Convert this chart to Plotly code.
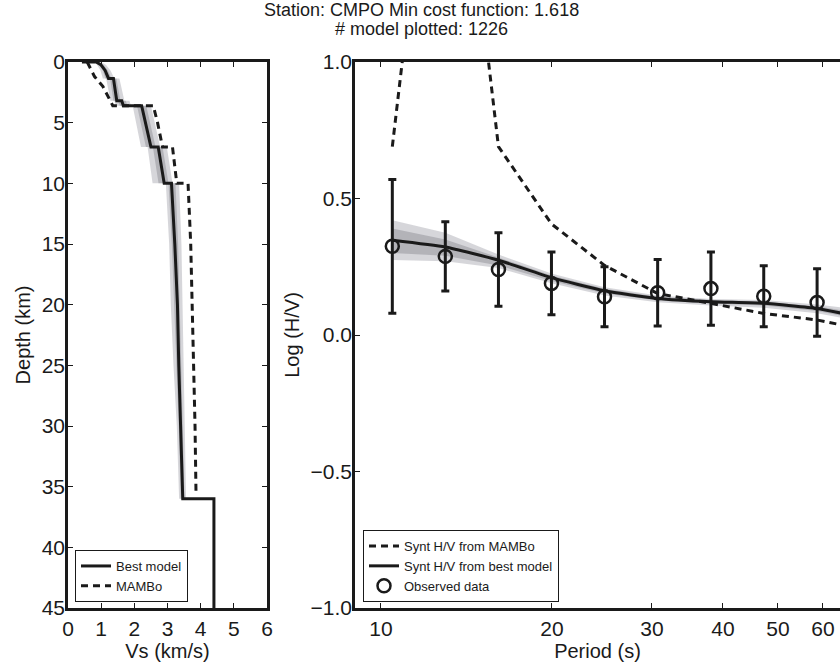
import numpy as np
import plotly.graph_objects as go

# ---------------- Left panel: Vs profiles ----------------
best_depth = [0, 0, 0.25, 0.7, 1.35, 1.35, 3.2, 3.2, 3.6, 3.6, 7.0, 7.0, 10.0, 10.0, 15, 20, 25, 30, 36.0, 36.0, 45]
best_vs = [0.42, 0.85, 1.00, 1.12, 1.22, 1.37, 1.47, 1.62, 1.67, 2.22, 2.50, 2.72, 2.90, 3.12, 3.22, 3.30, 3.34, 3.40, 3.46, 4.40, 4.40]

band_depth = [0, 0, 0.25, 0.7, 1.35, 1.35, 3.2, 3.2, 3.6, 3.6, 7.0, 7.0, 10.0, 10.0, 15, 20, 25, 30, 36.0]
band_outer_lo = [0.35, 0.80, 0.88, 0.98, 1.05, 1.15, 1.28, 1.40, 1.45, 1.95, 2.20, 2.40, 2.55, 2.95, 3.05, 3.10, 3.18, 3.28, 3.35]
band_outer_hi = [0.55, 1.00, 1.15, 1.28, 1.40, 1.55, 1.70, 1.85, 1.90, 2.50, 2.78, 2.98, 3.15, 3.35, 3.42, 3.45, 3.48, 3.52, 3.56]
band_inner_lo = [0.38, 0.82, 0.94, 1.05, 1.13, 1.27, 1.37, 1.51, 1.56, 2.08, 2.35, 2.56, 2.73, 3.03, 3.13, 3.20, 3.26, 3.34, 3.40]
band_inner_hi = [0.48, 0.92, 1.07, 1.20, 1.31, 1.46, 1.58, 1.74, 1.79, 2.36, 2.64, 2.85, 3.03, 3.24, 3.32, 3.38, 3.41, 3.46, 3.51]

mambo_depth = [0.0, 1.2, 2.0, 3.0, 3.6, 3.6, 5.0, 7.0, 7.0, 10.0, 10.0, 15, 20, 25, 30, 35.6]
mambo_vs = [0.58, 0.80, 1.05, 1.25, 1.35, 2.57, 2.70, 2.85, 3.15, 3.28, 3.62, 3.70, 3.75, 3.80, 3.83, 3.86]

# ---------------- Right panel: H/V curves ----------------
obs_period = [10.47, 12.98, 16.10, 19.96, 24.75, 30.7, 38.1, 47.2, 58.6]
obs_val = [0.325, 0.288, 0.240, 0.189, 0.140, 0.155, 0.170, 0.142, 0.119]
obs_err = [0.245, 0.127, 0.135, 0.115, 0.110, 0.122, 0.134, 0.112, 0.124]

syn_period = [10.47, 12.98, 16.10, 19.96, 24.75, 30.7, 38.1, 47.2, 58.6, 65.0]
syn_best = [0.347, 0.322, 0.274, 0.210, 0.162, 0.134, 0.122, 0.116, 0.097, 0.079]
syn_mambo = [0.69, 2.35, 0.69, 0.407, 0.255, 0.152, 0.116, 0.079, 0.055, 0.036]
syn_outer_hi = [0.42, 0.375, 0.295, 0.225, 0.175, 0.145, 0.132, 0.128, 0.112, 0.100]
syn_outer_lo = [0.275, 0.27, 0.245, 0.19, 0.145, 0.12, 0.108, 0.10, 0.080, 0.062]
syn_inner_hi = [0.39, 0.35, 0.285, 0.218, 0.169, 0.140, 0.128, 0.122, 0.105, 0.090]
syn_inner_lo = [0.30, 0.29, 0.255, 0.198, 0.152, 0.126, 0.115, 0.108, 0.088, 0.070]

x_ticks_vs = [0, 1, 2, 3, 4, 5, 6]
y_ticks_depth = [0, 5, 10, 15, 20, 25, 30, 35, 40, 45]
x_ticks_period = [10, 20, 30, 40, 50, 60]
y_ticks_hv = [-1.0, -0.5, 0.0, 0.5, 1.0]

INK = "#1a1a1a"
FONT = "Liberation Sans, Arial, sans-serif"

W, H = 840, 663
PLOT_TOP, PLOT_BOT = 62, 608


def px_x(x):
    return x / W


def py(y):
    return (PLOT_BOT - y) / (PLOT_BOT - PLOT_TOP)


fig = go.Figure()


def band_h(lo, hi, depth, color):
    return go.Scatter(x=list(lo) + list(hi)[::-1], y=list(depth) + list(depth)[::-1],
                      fill="toself", fillcolor=color, line=dict(width=0),
                      mode="lines", hoverinfo="skip", showlegend=False,
                      xaxis="x", yaxis="y")


fig.add_trace(band_h(band_outer_lo, band_outer_hi, band_depth, "rgba(200,200,206,0.75)"))
fig.add_trace(band_h(band_inner_lo, band_inner_hi, band_depth, "rgba(155,155,162,0.6)"))
fig.add_trace(go.Scatter(x=best_vs, y=best_depth, mode="lines", name="Best model",
                         line=dict(color=INK, width=3), xaxis="x", yaxis="y", legend="legend"))
fig.add_trace(go.Scatter(x=mambo_vs, y=mambo_depth, mode="lines", name="MAMBo",
                         line=dict(color=INK, width=3, dash="7px,5px"), xaxis="x", yaxis="y",
                         legend="legend"))


def band_v(lo, hi, per, color):
    return go.Scatter(x=list(per) + list(per)[::-1], y=list(lo) + list(hi)[::-1],
                      fill="toself", fillcolor=color, line=dict(width=0),
                      mode="lines", hoverinfo="skip", showlegend=False,
                      xaxis="x2", yaxis="y2")


fig.add_trace(band_v(syn_outer_lo, syn_outer_hi, syn_period, "rgba(200,200,206,0.75)"))
fig.add_trace(band_v(syn_inner_lo, syn_inner_hi, syn_period, "rgba(155,155,162,0.6)"))
fig.add_trace(go.Scatter(x=syn_period, y=syn_mambo, mode="lines", name="Synt H/V from MAMBo",
                         line=dict(color=INK, width=3, dash="7px,5px"), xaxis="x2", yaxis="y2",
                         legend="legend2"))
fig.add_trace(go.Scatter(x=syn_period, y=syn_best, mode="lines", name="Synt H/V from best model",
                         line=dict(color=INK, width=3, shape="spline", smoothing=0.5),
                         xaxis="x2", yaxis="y2", legend="legend2"))
fig.add_trace(go.Scatter(x=obs_period, y=obs_val, mode="markers", name="Observed data",
                         marker=dict(symbol="circle-open", size=13, color=INK, line=dict(width=2.5, color=INK)),
                         error_y=dict(type="data", array=obs_err, visible=True, thickness=3, width=4, color=INK),
                         xaxis="x2", yaxis="y2", legend="legend2"))

axis_common = dict(showline=True, linewidth=2.5, linecolor=INK, ticks="inside", ticklen=5,
                   tickwidth=1, tickcolor=INK, showgrid=False, zeroline=False,
                   tickfont=dict(size=21, color=INK, family=FONT))

fig.update_layout(
    width=W, height=H,
    margin=dict(l=0, r=0, t=PLOT_TOP, b=H - PLOT_BOT, autoexpand=False),
    paper_bgcolor="white", plot_bgcolor="white",
    font=dict(family=FONT, color=INK),
    xaxis=dict(domain=[px_x(68), px_x(267)], range=[0, 6], tickvals=x_ticks_vs, mirror="ticks",
               anchor="y", title=dict(text="Vs (km/s)", font=dict(size=20), standoff=2), **axis_common),
    yaxis=dict(domain=[0, 1], range=[45, 0], tickvals=y_ticks_depth, mirror="ticks", anchor="x",
               ticklabelstandoff=-4,
               title=dict(text="Depth (km)", font=dict(size=20), standoff=6), **axis_common),
    xaxis2=dict(domain=[px_x(355), 1.0], type="log", range=[np.log10(9.0), np.log10(64.3)],
                tickvals=x_ticks_period, ticktext=[str(v) for v in x_ticks_period], mirror="ticks",
                anchor="y2", title=dict(text="Period (s)", font=dict(size=20), standoff=2), **axis_common),
    yaxis2=dict(domain=[0, 1], range=[-1, 1], tickvals=y_ticks_hv, tickformat=".1f", mirror=False,
                anchor="x2", ticklabelstandoff=-4,
                title=dict(text="Log (H/V)", font=dict(size=20), standoff=6), **axis_common),
    legend=dict(x=px_x(75), y=py(602), xanchor="left", yanchor="bottom", bgcolor="white",
                bordercolor=INK, borderwidth=1, font=dict(size=13, family=FONT, color=INK),
                tracegroupgap=0),
    legend2=dict(x=px_x(363), y=py(602), xanchor="left", yanchor="bottom", bgcolor="white",
                 bordercolor=INK, borderwidth=1, font=dict(size=13, family=FONT, color=INK),
                 tracegroupgap=0),
    annotations=[
        dict(text="Station: CMPO Min cost function: 1.618", x=px_x(421), y=py(10),
             xref="paper", yref="paper", xanchor="center", yanchor="middle", showarrow=False,
             font=dict(size=18, family=FONT, color=INK)),
        dict(text="# model plotted: 1226", x=px_x(421), y=py(29),
             xref="paper", yref="paper", xanchor="center", yanchor="middle", showarrow=False,
             font=dict(size=18, family=FONT, color=INK)),
    ],
)

# Remove the browser's default 8px body margin so the figure fills the window.
fig.write_html("out.html", config={"displayModeBar": False},
               post_script="document.body.style.margin='0px';")
